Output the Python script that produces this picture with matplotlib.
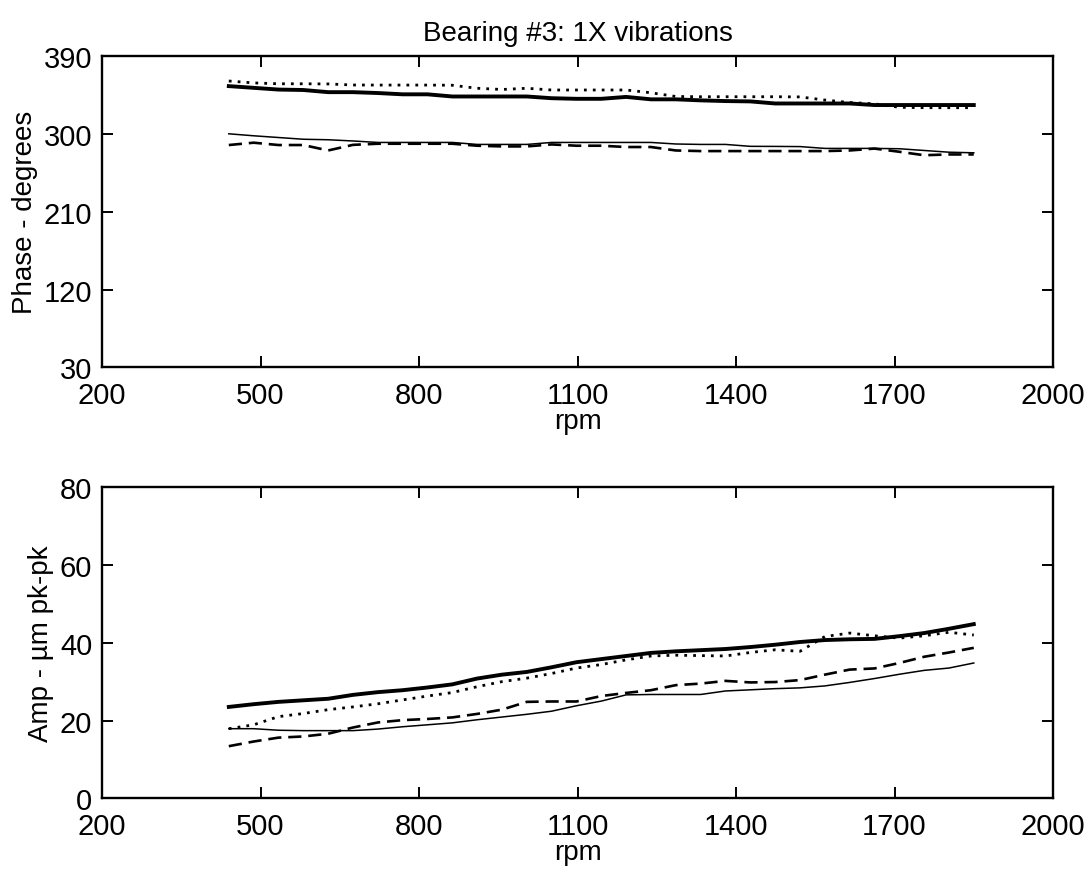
import matplotlib
matplotlib.use("Agg")
import matplotlib.pyplot as plt

plt.rcParams["font.family"] = ["Liberation Sans", "DejaVu Sans"]

# rpm grid shared by all traces
rpm = [440, 487, 534, 581, 628, 675, 722, 769, 816, 863, 910, 957, 1004, 1051,
       1098, 1145, 1192, 1239, 1286, 1333, 1380, 1427, 1474, 1521, 1568, 1615,
       1662, 1709, 1756, 1803, 1850]

# phase (degrees)
phase_thick = [355.5, 353.5, 351.5, 351, 348.5, 348.5, 347.5, 346, 346, 343.5,
               343.5, 343.5, 343.5, 341.5, 340.8, 340.8, 343, 340.2, 340.2, 339,
               338.2, 337.8, 335.4, 335.4, 335.4, 335.4, 333.6, 333.6, 333.6,
               333.6, 333.6]
phase_dotted = [361.4, 359.2, 358.2, 358.2, 358, 356.8, 356.7, 356.7, 356.7,
                356.5, 353, 351.6, 353, 351, 351, 351, 351, 347.8, 343.5, 343.2,
                343.2, 343.2, 343.2, 343, 339.4, 336.5, 335, 331, 330.5, 330.5,
                330.5]
phase_thin = [300.3, 298, 296, 294, 293.4, 292, 290.3, 290.3, 290.3, 290.3, 288,
              288, 288, 290.3, 290.3, 290.3, 290.3, 290.3, 288.5, 288, 288,
              285.8, 285.7, 285.5, 283.4, 283.4, 283.4, 283, 281, 279, 278.3]
phase_dashed = [287.3, 290, 287.3, 287.3, 281, 287.5, 288.8, 288.8, 288.8,
                288.8, 286.5, 285.7, 285.7, 288, 286.5, 286.5, 285, 285, 281,
                280.3, 280.3, 280.3, 280.3, 280.3, 280.3, 281, 283.2, 279.5,
                275.5, 276.4, 276.4]

# amplitude (um pk-pk)
amp_thick = [23.5, 24.2, 24.8, 25.2, 25.6, 26.6, 27.3, 27.8, 28.5, 29.3, 30.8,
             31.8, 32.5, 33.7, 35.0, 35.8, 36.6, 37.4, 37.8, 38.1, 38.4, 38.9,
             39.5, 40.2, 40.7, 40.9, 41.0, 41.7, 42.5, 43.6, 44.8]
amp_dotted = [17.9, 18.9, 21.0, 21.8, 22.8, 23.5, 24.3, 25.3, 26.3, 27.2, 28.7,
              30.0, 30.9, 32.1, 33.5, 34.4, 35.6, 36.6, 36.8, 36.7, 36.6, 37.5,
              38.2, 37.8, 41.6, 42.5, 41.8, 41.2, 41.8, 42.7, 42.0]
amp_thin = [17.9, 17.9, 17.5, 17.4, 17.4, 17.4, 17.8, 18.4, 18.9, 19.4, 20.2,
            20.9, 21.6, 22.4, 23.8, 25.0, 26.6, 26.7, 26.7, 26.7, 27.6, 27.9,
            28.2, 28.4, 28.9, 29.8, 30.8, 31.9, 32.9, 33.5, 34.8]
amp_dashed = [13.4, 14.6, 15.6, 15.9, 16.6, 18.2, 19.5, 20.1, 20.4, 20.8, 21.7,
              22.8, 24.8, 24.9, 24.9, 26.3, 27.1, 27.8, 29.1, 29.5, 30.2, 29.8,
              29.9, 30.4, 31.8, 33.1, 33.4, 34.8, 36.4, 37.5, 38.7]

xticks = [200, 500, 800, 1100, 1400, 1700, 2000]
phase_ticks = [30, 120, 210, 300, 390]
amp_ticks = [0, 20, 40, 60, 80]

fig = plt.figure(figsize=(10.91, 8.79), dpi=100)
ax1 = fig.add_axes([0.0935, 0.581, 0.8717, 0.3538])
ax2 = fig.add_axes([0.0935, 0.0907, 0.8717, 0.3538])


def draw(ax, thick, dotted, thin, dashed):
    ax.plot(rpm, thick, color="black", lw=2.8, solid_joinstyle="round")
    ax.plot(rpm, dotted, color="black", lw=2.0, linestyle=(0, (1, 2.2)))
    ax.plot(rpm, thin, color="black", lw=1.1)
    ax.plot(rpm, dashed, color="black", lw=1.9, linestyle=(0, (5, 2.6)))


draw(ax1, phase_thick, phase_dotted, phase_thin, phase_dashed)
draw(ax2, amp_thick, amp_dotted, amp_thin, amp_dashed)

for ax, yt in [(ax1, phase_ticks), (ax2, amp_ticks)]:
    ax.set_xlim(200, 2000)
    ax.set_ylim(yt[0], yt[-1])
    ax.set_xticks(xticks)
    ax.set_yticks(yt)
    ax.tick_params(direction="in", length=8, width=1.4, labelsize=21,
                   top=True, right=True)
    ax.tick_params(axis="x", pad=10)
    ax.tick_params(axis="y", pad=7)
    for s in ax.spines.values():
        s.set_linewidth(1.7)
    ax.set_xlabel("rpm", fontsize=20, labelpad=-1)

ax1.set_ylabel("Phase - degrees", fontsize=20, labelpad=4)
ax2.set_ylabel("Amp - µm pk-pk", fontsize=20, labelpad=4)
ax1.set_title("Bearing #3: 1X vibrations", fontsize=20, pad=12)

fig.savefig("out.png", dpi=100)
